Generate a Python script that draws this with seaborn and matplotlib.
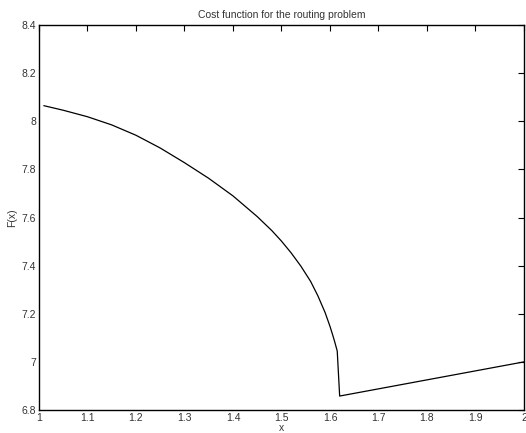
import numpy as np
import pandas as pd
import seaborn as sns
import matplotlib.pyplot as plt

# values
x_vals = [1.01, 1.05, 1.10, 1.15, 1.20, 1.25, 1.30, 1.35, 1.40, 1.45,
          1.48, 1.50, 1.52, 1.54, 1.56, 1.575, 1.59, 1.60, 1.605, 1.61,
          1.615, 1.62, 2.0]
f_vals = [8.065, 8.046, 8.019, 7.985, 7.942, 7.889, 7.828, 7.763, 7.690, 7.604,
          7.546, 7.502, 7.453, 7.398, 7.335, 7.275, 7.205, 7.148, 7.116, 7.082,
          7.045, 6.858, 7.000]
x_ticks = [1, 1.1, 1.2, 1.3, 1.4, 1.5, 1.6, 1.7, 1.8, 1.9, 2]
y_ticks = [6.8, 7, 7.2, 7.4, 7.6, 7.8, 8, 8.2, 8.4]

df = pd.DataFrame({'x': x_vals, 'F': f_vals})

sns.set_style('white')
plt.rcParams['font.family'] = ['Liberation Sans', 'DejaVu Sans']

fig = plt.figure(figsize=(5.26, 4.33), dpi=100)
ax = fig.add_axes([0.0741, 0.0531, 0.922, 0.889])

sns.lineplot(x='x', y='F', data=df, ax=ax, color='black', linewidth=0.9,
             sort=False, estimator=None)

ax.set_xlim(1, 2)
ax.set_ylim(6.8, 8.4)
ax.set_xticks(x_ticks)
ax.set_xticklabels(['1', '1.1', '1.2', '1.3', '1.4', '1.5', '1.6', '1.7', '1.8', '1.9', '2'])
ax.set_yticks(y_ticks)
ax.set_yticklabels(['6.8', '7', '7.2', '7.4', '7.6', '7.8', '8', '8.2', '8.4'])

ax.tick_params(direction='in', length=4, width=0.8, top=True, right=True,
               labelsize=7.5, labelcolor='#333333', pad=2, color='black')
for s in ax.spines.values():
    s.set_color('black')
    s.set_linewidth(1.0)

ax.set_title('Cost function for the routing problem', fontsize=7.5, color='#333333', pad=5)
ax.set_xlabel('x', fontsize=7.5, color='#333333', labelpad=0)
ax.set_ylabel('F(x)', fontsize=7.5, color='#333333', labelpad=3)

fig.savefig('out.png', dpi=100)
